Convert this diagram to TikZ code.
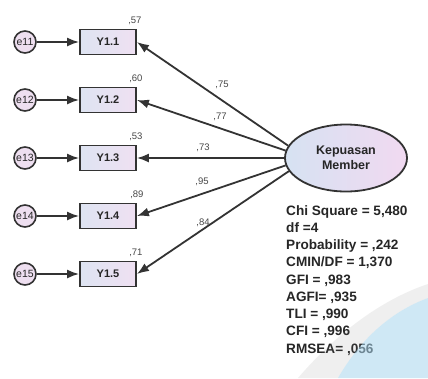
\documentclass[tikz,border=0pt]{standalone}
\usepackage{fontspec}
\setmainfont{Liberation Sans}
\usetikzlibrary{arrows.meta,shapes.geometric}
\definecolor{lineC}{HTML}{333333}
\definecolor{txtC}{HTML}{262626}
\definecolor{circF}{HTML}{EEDFF0}
\definecolor{boxL}{HTML}{DEE4F2}
\definecolor{boxR}{HTML}{EFE0F2}
\definecolor{ellL}{HTML}{D6E2F2}
\definecolor{ellR}{HTML}{F1D9F1}
\definecolor{wmBlue}{HTML}{A9D6EE}
\begin{document}
\begin{tikzpicture}[x=1pt,y=-1pt,
  errc/.style={circle,draw=lineC,line width=1.6pt,fill=circF,minimum size=22pt,inner sep=0pt,font=\fontsize{10.5}{11}\selectfont,text=txtC},
  obsbox/.style={rectangle,draw=lineC,line width=1.8pt,left color=boxL,right color=boxR,minimum width=56pt,minimum height=25pt,inner sep=0pt,font=\bfseries\fontsize{11}{12}\selectfont,text=txtC},
  latent/.style={ellipse,draw=lineC,line width=1.8pt,left color=ellL,right color=ellR,minimum width=122pt,minimum height=67pt,inner sep=0pt,align=center,font=\bfseries\fontsize{12.5}{15}\selectfont,text=txtC},
  conn/.style={draw=lineC,line width=1.8pt,-{Latex[length=12pt,width=9pt]}},
  coef/.style={font=\fontsize{9.5}{10}\selectfont,text=txtC!85,inner sep=0pt},
  stats/.style={font=\bfseries\fontsize{13.6}{17.25}\selectfont,text=txtC,align=left,anchor=north west,inner sep=0pt}
]
\useasboundingbox (0,0) rectangle (428,378);
\fill[white] (0,0) rectangle (428,378);

\foreach \i/\y in {1/42,2/100,3/158,4/216,5/274}{
  \node[errc] (e\i) at (25,\y) {e1\i};
  \node[obsbox] (y\i) at (108,\y) {Y1.\i};
  \draw[conn] (e\i) -- (y\i);
}
\node[latent] (k) at (346,158) {Kepuasan\\Member};

\draw[conn] (k.168) -- (y1.east);
\draw[conn] (k.173) -- (y2.east);
\draw[conn] (k.west) -- (y3.east);
\draw[conn] (k.187) -- (y4.east);
\draw[conn] (k.193) -- (y5.east);

\node[coef,anchor=south] (r1) at ([xshift=-2pt,yshift=4pt]y1.north east) {,57};
\node[coef,anchor=south] (r2) at ([xshift=-1pt,yshift=4pt]y2.north east) {,60};
\node[coef,anchor=south] (r3) at ([xshift=-1pt,yshift=4pt]y3.north east) {,53};
\node[coef,anchor=south] (r4) at ([xshift=0pt,yshift=4pt]y4.north east) {,89};
\node[coef,anchor=south] (r5) at ([xshift=-1pt,yshift=4pt]y5.north east) {,71};

\node[coef] (l1) at (222,85) {,75};
\node[coef] (l2) at (220,117) {,77};
\node[coef] (l3) at (203,148) {,73};
\node[coef] (l4) at (202,182) {,95};
\node[coef] (l5) at (203,223) {,84};

\node[stats] (st) at (286,205) {Chi Square = 5,480\\df =4\\Probability = ,242\\CMIN/DF = 1,370\\GFI = ,983\\AGFI= ,935\\TLI = ,990\\CFI = ,996\\RMSEA= ,056};

% watermark
\fill[gray,opacity=0.12] (298,378) .. controls (335,335) and (380,300) .. (428,284) -- (428,298) .. controls (390,312) and (360,340) .. (338,378) -- cycle;
\fill[wmBlue,opacity=0.55] (338,378) .. controls (360,340) and (390,312) .. (428,298) -- (428,378) -- cycle;
\end{tikzpicture}
\end{document}
